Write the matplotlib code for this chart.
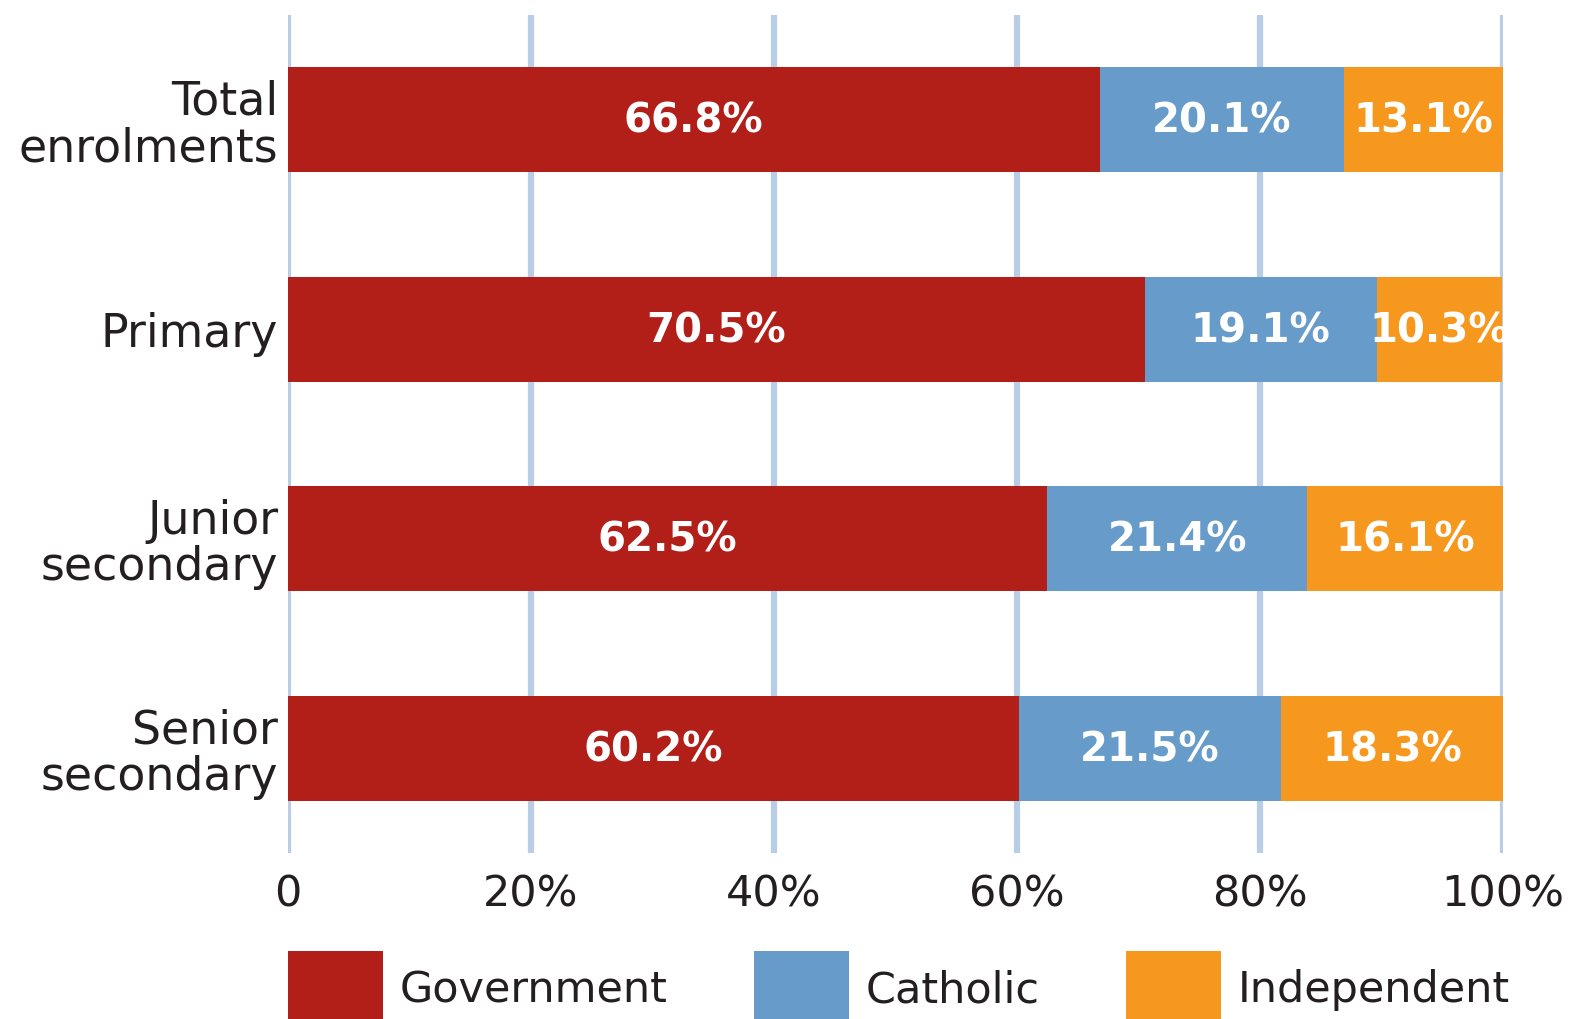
import matplotlib.pyplot as plt
from matplotlib.patches import Patch
import numpy as np

categories = ["Total\nenrolments", "Primary", "Junior\nsecondary", "Senior\nsecondary"]
government = [66.8, 70.5, 62.5, 60.2]
catholic = [20.1, 19.1, 21.4, 21.5]
independent = [13.1, 10.3, 16.1, 18.3]
series_names = ["Government", "Catholic", "Independent"]
x_ticks = [0, 20, 40, 60, 80, 100]
x_ticklabels = ["0", "20%", "40%", "60%", "80%", "100%"]

colors = ["#b21e18", "#679bc9", "#f7981e"]
grid_col = "#b8cde6"
txt_col = "#231f20"

plt.rcParams['font.family'] = ['DejaVu Sans']

fig = plt.figure(figsize=(15.69, 10.19), dpi=100)
ax = fig.add_axes([288/1569, 1 - 853/1019, (1503 - 288)/1569, (853 - 15)/1019])

y = np.arange(len(categories))
left = np.zeros(len(categories))
for vals, c, name in zip([government, catholic, independent], colors, series_names):
    vals = np.array(vals)
    ax.barh(y, vals, left=left, height=0.5, color=c, zorder=3, label=name)
    for yi, l, v in zip(y, left, vals):
        ax.text(l + v/2, yi + 0.01, "{:.1f}%".format(v), ha='center', va='center',
                color='white', fontsize=29, fontweight='bold', zorder=4)
    left = left + vals

ax.set_xlim(0, 100)
ax.set_ylim(3.5, -0.5)
ax.set_xticks(x_ticks)
ax.set_xticklabels(x_ticklabels, fontsize=31, color=txt_col)
ax.set_yticks(y)
ax.set_yticklabels(categories, fontsize=33, color=txt_col, linespacing=1.05)
ax.tick_params(axis='both', length=0)
ax.tick_params(axis='x', pad=15)
ax.tick_params(axis='y', pad=7)
for s in ax.spines.values():
    s.set_visible(False)
for xt in x_ticks:
    ax.axvline(xt, color=grid_col, linewidth=4.5, zorder=1)

handles = [Patch(facecolor=c, edgecolor='none') for c in colors]
fig.legend(handles, series_names, loc='lower left', bbox_to_anchor=(288/1569, -0.008),
           ncol=3, frameon=False, fontsize=31, handlelength=2.2, handleheight=2.35,
           handletextpad=0.4, columnspacing=2.0, borderpad=0, borderaxespad=0,
           labelcolor=txt_col)

fig.savefig("out.png", dpi=100)
